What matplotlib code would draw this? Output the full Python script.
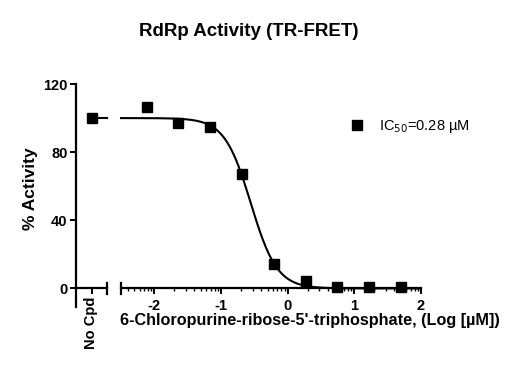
import matplotlib

matplotlib.use("Agg")
import matplotlib.pyplot as plt
import numpy as np

plt.rcParams["font.family"] = ["Liberation Sans", "DejaVu Sans"]

# data
no_cpd_value = 100.0
log_conc = [-2.117, -1.640, -1.163, -0.686, -0.209, 0.268, 0.745, 1.222, 1.699]
activity = [106.3, 97.2, 94.9, 67.0, 14.5, 4.3, 0.6, 1.0, 0.6]

# four-parameter fit
fit_top = 100.0
fit_bottom = 0.0
fit_log_ic50 = np.log10(0.28)
fit_hill = 2.2

yticks = [0, 40, 80, 120]
xticks = [-2, -1, 0, 1, 2]

W, H = 526, 376
fig = plt.figure(figsize=(W / 100, H / 100), dpi=100)

y_lo, y_hi = -10.6, 120


def frac(x0, x1, y_top, y_bot):
    return [x0 / W, 1 - y_bot / H, (x1 - x0) / W, (y_bot - y_top) / H]


ax1 = fig.add_axes(frac(76, 107, 84, 306.5))
ax2 = fig.add_axes(frac(121, 421, 84, 306.5))

for ax in (ax1, ax2):
    ax.set_ylim(y_lo, y_hi)
    ax.spines["top"].set_visible(False)
    ax.spines["right"].set_visible(False)
    ax.spines["bottom"].set_position(("data", 0))
    for s in ax.spines.values():
        s.set_linewidth(1.6)
    ax.patch.set_alpha(0)

# left segment: No Cpd
ax1.set_xlim(0, 1)
ax1.plot([0.5], [no_cpd_value], "s", color="black", ms=6.5, clip_on=False)
ax1.plot([0.5, 1.0], [fit_top, fit_top], color="black", lw=1.5, clip_on=False)
ax1.plot([1, 1], [-3.2, 3.2], color="black", lw=1.6, clip_on=False)
ax1.set_yticks(yticks)
ax1.set_yticklabels([str(v) for v in yticks], fontsize=10.5, fontweight="bold")
ax1.set_xticks([0.5])
ax1.set_xticklabels(["No Cpd"], rotation=90, fontsize=10.5, fontweight="bold")
ax1.tick_params(axis="both", width=1.4, length=4, pad=2)

# right segment: log concentration
ax2.set_xlim(-2.5, 2)
ax2.spines["left"].set_visible(False)
ax2.set_yticks([])
xs = np.linspace(-2.5, 2, 400)
ys = fit_bottom + (fit_top - fit_bottom) / (1 + 10 ** ((xs - fit_log_ic50) * fit_hill))
ax2.plot(xs, ys, color="black", lw=1.5, clip_on=False)
ax2.plot(log_conc, activity, "s", color="black", ms=6.5, clip_on=False,
         label="IC$_{50}$=0.28 µM")
ax2.plot([-2.5, -2.5], [-3.2, 3.2], color="black", lw=1.6, clip_on=False)

minor = [d + np.log10(k) for d in range(-3, 2) for k in range(2, 10)]
minor = [m for m in minor if -2.5 <= m <= 2]
ax2.set_xticks(xticks)
ax2.set_xticklabels([str(v) for v in xticks], fontsize=10.5, fontweight="bold")
ax2.set_xticks(minor, minor=True)
ax2.tick_params(axis="x", which="major", width=1.4, length=4.5, pad=3)
ax2.tick_params(axis="x", which="minor", width=1.0, length=2.5)

ax2.legend(loc="upper left", bbox_to_anchor=(0.718, 0.875), frameon=False,
           fontsize=10.5, handletextpad=0.5, borderaxespad=0)

fig.text(310 / W, 1 - 321 / H, "6-Chloropurine-ribose-5'-triphosphate, (Log [µM])",
         ha="center", va="center", fontsize=11.7, fontweight="bold")
fig.text(30 / W, 1 - 189 / H, "% Activity", ha="center", va="center",
         rotation=90, fontsize=12.5, fontweight="bold")
fig.text(249 / W, 1 - 31 / H, "RdRp Activity (TR-FRET)", ha="center", va="center",
         fontsize=13.5, fontweight="bold")

fig.savefig("out.png", dpi=100)
